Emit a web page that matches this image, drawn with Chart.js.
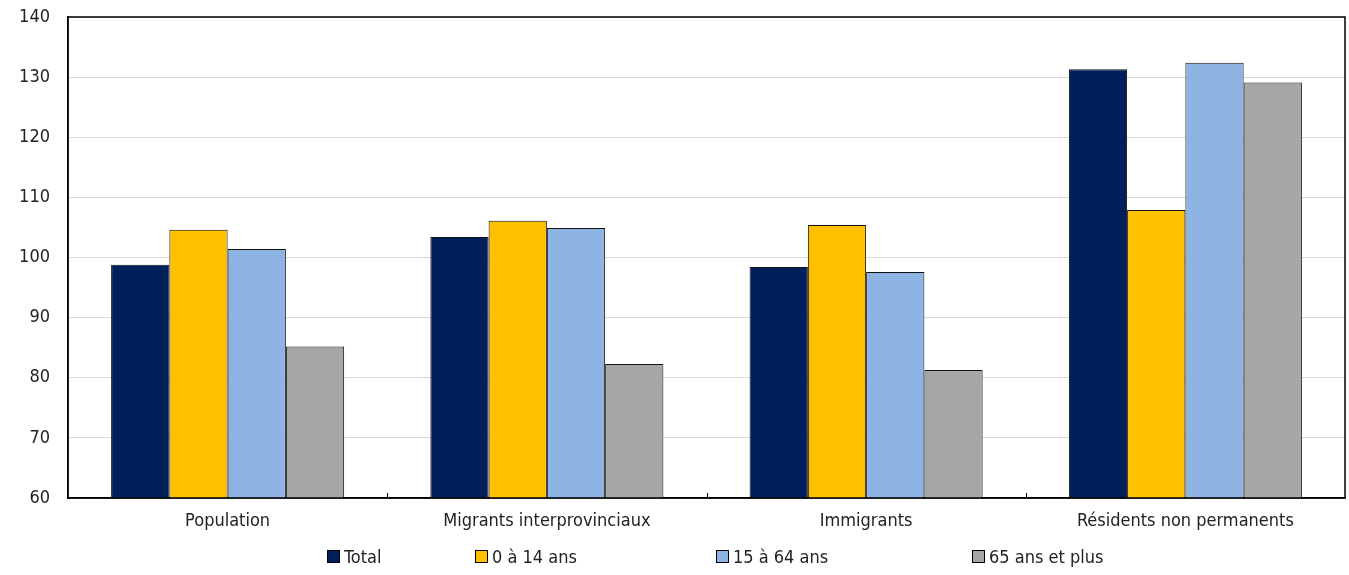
<!DOCTYPE html>
<html lang="fr">
<head>
<meta charset="utf-8">
<script src="https://cdn.jsdelivr.net/npm/chart.js@4.4.1/dist/chart.umd.min.js"></script>
<style>
  body { margin: 0; background: #fff; }
  #wrap { position: relative; width: 1349px; height: 575px; }
  #legend {
    position: absolute; left: 327px; top: 546px; display: flex;
    font: 18px 'DejaVu Sans Condensed', sans-serif; color: #222;
  }
  .item { display: flex; align-items: center; }
  .item:nth-child(1) { width: 148px; }
  .item:nth-child(2) { width: 241px; }
  .item:nth-child(3) { width: 256px; }
  .box { width: 11px; height: 11px; border: 1px solid #000; margin-right: 4px; }
</style>
</head>
<body>
<div id="wrap">
  <canvas id="chart" width="1349" height="575"></canvas>
  <div id="legend"></div>
</div>
<script>
// categories and series
const categories = ["Population", "Migrants interprovinciaux", "Immigrants", "Résidents non permanents"];
const seriesNames = ["Total", "0 à 14 ans", "15 à 64 ans", "65 ans et plus"];
const total     = [98.8, 103.4, 98.4, 131.3];
const age0to14  = [104.6, 106.1, 105.4, 107.9];
const age15to64 = [101.4, 104.9, 97.6, 132.4];
const age65plus = [85.2, 82.3, 81.3, 129.1];
const yMin = 60, yMax = 140, yStep = 10;

const colors = ["#00205b", "#ffc000", "#8eb4e3", "#a6a6a6"];
const values = [total, age0to14, age15to64, age65plus];
const FONT = "'DejaVu Sans Condensed', sans-serif";

// frame around plot + small ticks between groups
const framePlugin = {
    id: "frame",
    afterDatasetsDraw(chart) {
        const a = chart.chartArea;
        const ctx = chart.ctx;
        const xs = chart.scales.x;
        ctx.save();
        ctx.strokeStyle = "#000";
        ctx.lineWidth = 1.5;
        ctx.strokeRect(a.left, a.top, a.right - a.left, a.bottom - a.top);
        ctx.lineWidth = 1;
        for (let i = 1; i < categories.length; i++) {
            const x = Math.round((xs.getPixelForTick(i - 1) + xs.getPixelForTick(i)) / 2) + 0.5;
            ctx.beginPath();
            ctx.moveTo(x, a.bottom);
            ctx.lineTo(x, a.bottom - 5);
            ctx.stroke();
        }
        ctx.restore();
    }
};

new Chart(document.getElementById("chart"), {
    type: "bar",
    data: {
        labels: categories,
        datasets: seriesNames.map((name, i) => ({
            label: name,
            data: values[i],
            backgroundColor: colors[i],
            borderColor: "#111",
            borderWidth: 1,
            categoryPercentage: 0.73,
            barPercentage: 1
        }))
    },
    options: {
        responsive: false,
        animation: false,
        layout: { padding: { top: 17, right: 4, left: 0, bottom: 0 } },
        plugins: { legend: { display: false }, tooltip: { enabled: false } },
        scales: {
            x: {
                grid: { display: false },
                border: { display: true, color: "#000", width: 1.5 },
                ticks: { color: "#222", font: { family: FONT, size: 18 }, padding: 5 },
                afterFit(s) { s.height = 77; s.paddingLeft = 0; s.paddingRight = 0; }
            },
            y: {
                min: yMin, max: yMax,
                grid: { color: "#d9d9d9", lineWidth: 1, drawTicks: false },
                border: { display: true, color: "#000", width: 1.5 },
                ticks: { stepSize: yStep, color: "#222", font: { family: FONT, size: 18 }, padding: 18 },
                afterFit(s) { s.width = 68; s.paddingTop = 0; s.paddingBottom = 0; }
            }
        }
    },
    plugins: [framePlugin]
});

// legend
const legend = document.getElementById("legend");
seriesNames.forEach((name, i) => {
    legend.innerHTML += `<div class="item"><span class="box" style="background:${colors[i]}"></span>${name}</div>`;
});
</script>
</body>
</html>
